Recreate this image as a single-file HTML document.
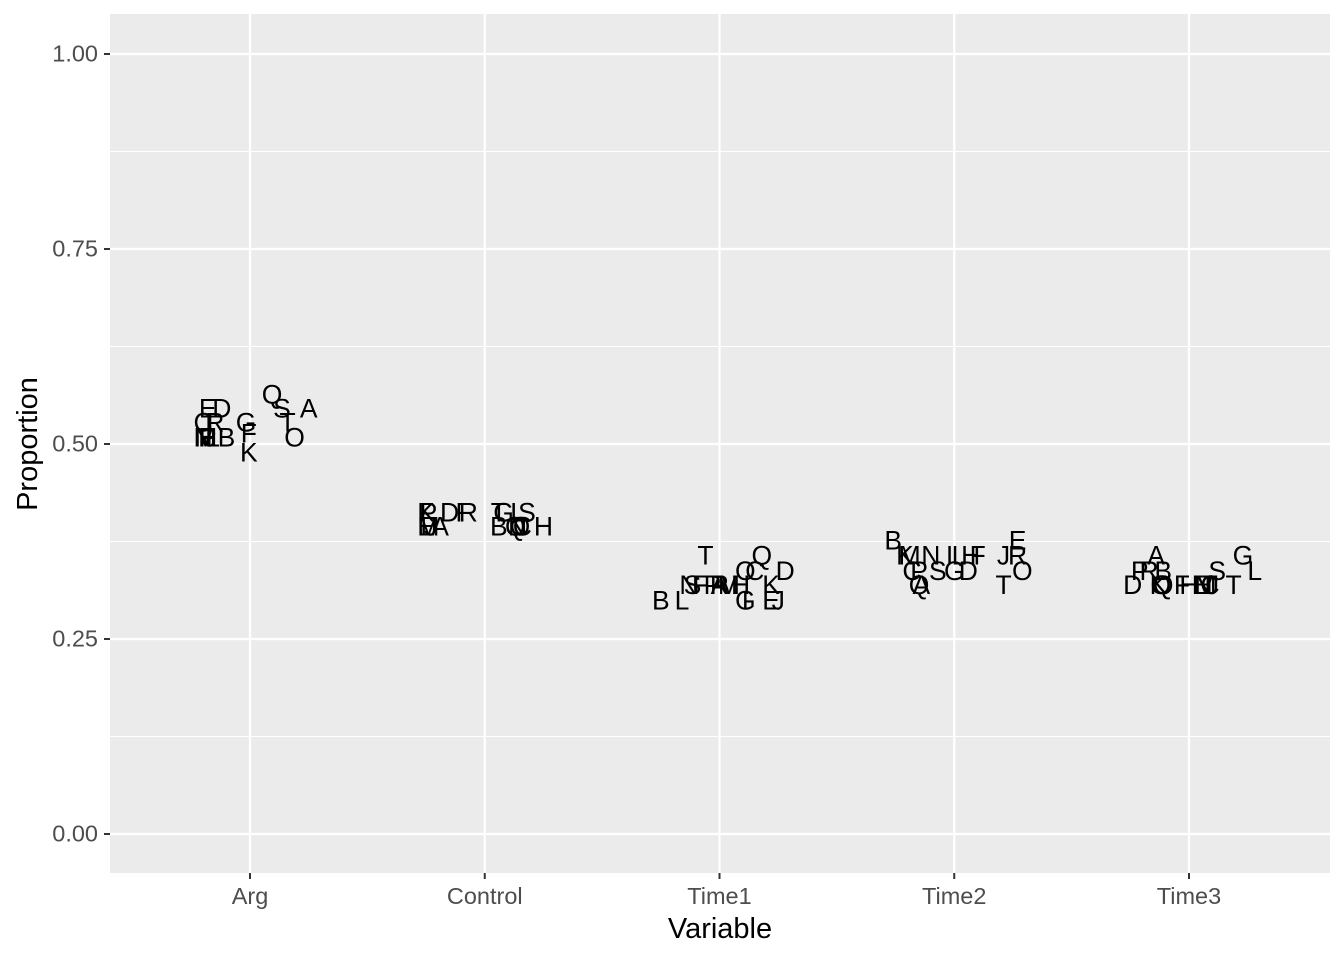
<!DOCTYPE html>
<html><head><meta charset="utf-8"><style>
body{margin:0;background:#fff;}
svg text{font-family:"Liberation Sans",Arial,sans-serif;}
</style></head><body>
<svg id="chart" width="1344" height="960" xmlns="http://www.w3.org/2000/svg">
<rect x="110" y="14" width="1220" height="859" fill="#EBEBEB"/>
<g id="grid"></g><g id="marks"></g><g id="axes"></g>
<text x="720" y="938" text-anchor="middle" font-size="29">Variable</text>
<text transform="translate(37,444) rotate(-90)" text-anchor="middle" font-size="29">Proportion</text>
</svg>
<script>
const categories = ["Arg","Control","Time1","Time2","Time3"];
const yTicks = [0,0.25,0.5,0.75,1];
const yTickLabels = ["0.00","0.25","0.50","0.75","1.00"];
const pointGroup = [
0,0,0,0,0,0,0,0,0,0,0,0,0,0,0,0,0,0,0,0,
1,1,1,1,1,1,1,1,1,1,1,1,1,1,1,1,1,1,1,1,
2,2,2,2,2,2,2,2,2,2,2,2,2,2,2,2,2,2,2,2,
3,3,3,3,3,3,3,3,3,3,3,3,3,3,3,3,3,3,3,3,
4,4,4,4,4,4,4,4,4,4,4,4,4,4,4,4,4,4,4,4];
const pointLabels = [
"Q","E","D","S","A","C","I","R","G","T","N","M","H","J","L","P","B","F","K","O",
"K","P","D","F","R","I","M","A","E","J","T","G","L","S","B","Q","C","O","N","H",
"T","Q","O","C","D","N","S","F","P","R","A","M","H","K","B","L","G","I","E","J",
"B","E","K","M","N","I","L","H","F","J","R","C","P","S","G","D","O","Q","A","T",
"A","G","P","R","B","S","L","D","K","Q","O","F","H","E","N","M","I","C","J","T"];
const xJitter = [
0.094,-0.18,-0.12,0.136,0.25,-0.2,-0.17,-0.15,-0.017,0.16,-0.2,-0.19,-0.18,-0.17,-0.16,-0.18,-0.1,-0.005,-0.005,0.19,
-0.25,-0.24,-0.15,-0.09,-0.07,-0.26,-0.24,-0.19,-0.25,-0.23,0.06,0.08,0.14,0.18,0.06,0.13,0.16,0.15,0.14,0.25,
-0.06,0.18,0.11,0.15,0.28,-0.13,-0.115,-0.08,-0.03,0.0,0.0,0.04,0.09,0.22,-0.25,-0.16,0.11,0.11,0.22,0.25,
-0.26,0.27,-0.21,-0.19,-0.1,-0.02,0.02,0.07,0.1,0.21,0.27,-0.18,-0.15,-0.07,0.0,0.06,0.29,-0.15,-0.14,0.21,
-0.14,0.23,-0.21,-0.17,-0.11,0.12,0.28,-0.24,-0.13,-0.11,-0.12,-0.03,0.0,0.05,0.06,0.07,0.08,0.09,0.1,0.19];
const yValues = [
0.564,0.546,0.546,0.546,0.546,0.528,0.528,0.528,0.528,0.528,0.509,0.509,0.509,0.509,0.509,0.509,0.509,0.514,0.49,0.509,
0.413,0.413,0.413,0.413,0.413,0.395,0.395,0.395,0.395,0.395,0.413,0.413,0.413,0.413,0.395,0.395,0.395,0.395,0.395,0.395,
0.358,0.358,0.338,0.338,0.338,0.32,0.32,0.32,0.32,0.32,0.32,0.32,0.32,0.32,0.3,0.3,0.3,0.3,0.3,0.3,
0.377,0.377,0.358,0.358,0.358,0.358,0.358,0.358,0.358,0.358,0.358,0.338,0.338,0.338,0.338,0.338,0.338,0.32,0.32,0.32,
0.358,0.358,0.338,0.338,0.338,0.338,0.338,0.32,0.32,0.32,0.32,0.32,0.32,0.32,0.32,0.32,0.32,0.32,0.32,0.32];
const NS="http://www.w3.org/2000/svg";
const xScale = c => 250 + c*234.75;
const yScale = v => 834 - v*780;
function mk(t,a,p){const e=document.createElementNS(NS,t);for(const k in a)e.setAttribute(k,a[k]);p.appendChild(e);return e;}
const grid=document.getElementById('grid'), axes=document.getElementById('axes'), marks=document.getElementById('marks');
for(let i=0;i<yTicks.length-1;i++){
  const y=yScale((yTicks[i]+yTicks[i+1])/2);
  const l=mk('line',{x1:110,x2:1330,y1:y,y2:y,stroke:'#fff','stroke-width':1.1},grid);
  
  
}
yTicks.forEach((v,i)=>{
  const y=yScale(v);
  const l=mk('line',{x1:110,x2:1330,y1:y,y2:y,stroke:'#fff','stroke-width':2.2},grid);
  
  
  mk('line',{x1:104,x2:110,y1:y,y2:y,stroke:'#333','stroke-width':2},axes);
  const t=mk('text',{x:98,y:y+7.5,'text-anchor':'end','font-size':23.5,fill:'#4D4D4D'},axes);
  t.textContent=yTickLabels[i];
  
  
});
categories.forEach((c,i)=>{
  const x=xScale(i);
  const l=mk('line',{x1:x,x2:x,y1:14,y2:873,stroke:'#fff','stroke-width':2.2},grid);
  
  
  mk('line',{x1:x,x2:x,y1:873,y2:879,stroke:'#333','stroke-width':2},axes);
  const t=mk('text',{x:x,y:904,'text-anchor':'middle','font-size':23.5,fill:'#4D4D4D'},axes);
  t.textContent=c;
  
  
});
pointLabels.forEach((lab,i)=>{
  const t=mk('text',{x:xScale(pointGroup[i]+xJitter[i]),y:yScale(yValues[i])+9.5,'text-anchor':'middle','font-size':26.5,fill:'#000'},marks);
  t.textContent=lab;
  
  
});
</script>
</body></html>
